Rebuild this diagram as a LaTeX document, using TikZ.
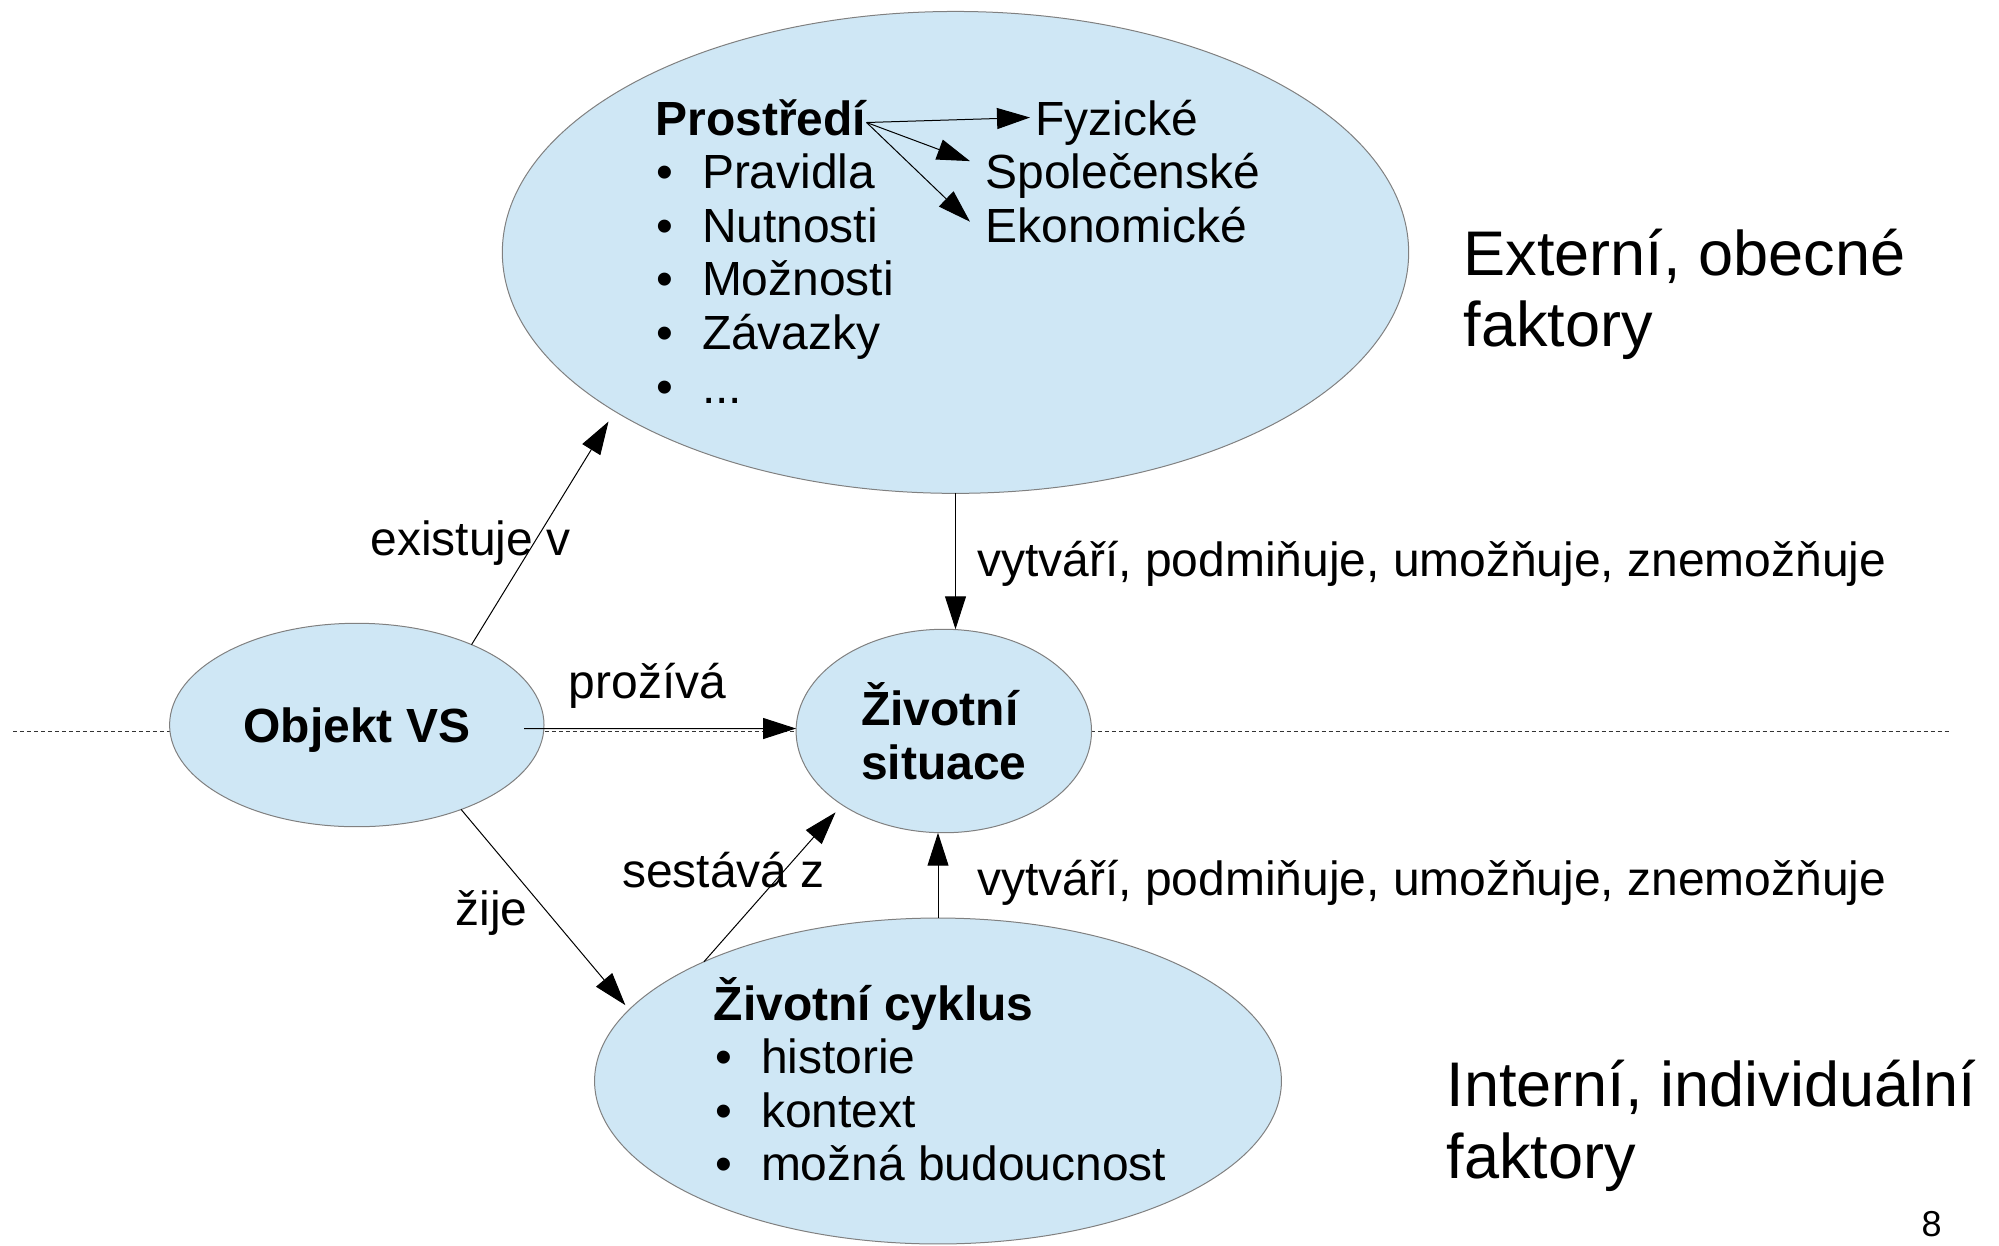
\documentclass[tikz,border=0pt]{standalone}
\usepackage{fontspec}
\setmainfont{Liberation Sans}
\usetikzlibrary{shapes.geometric,arrows.meta}
\definecolor{blobfill}{RGB}{207,231,245}
\definecolor{blobedge}{RGB}{128,128,128}
\tikzset{
  blob/.style={ellipse,draw=blobedge,fill=blobfill,line width=0.02cm,inner sep=0pt,outer sep=0pt},
  txt/.style={inner sep=0pt,anchor=base west,font=\fontsize{27.3}{30.5}\selectfont},
  head/.style={txt,font=\fontsize{27.3}{30.5}\selectfont\bfseries},
  big/.style={txt,font=\fontsize{35.9}{40.8}\selectfont},
}
\newcommand{\itm}[1]{\makebox[0.95em][l]{\textbullet}#1}

\begin{document}
\begin{tikzpicture}[x=0.02cm,y=-0.02cm,->,>={Triangle[length=0.66cm,width=0.42cm]},line width=0.02cm]
  \useasboundingbox (0,0) rectangle (1999,1245);
  % separator
  \draw[-,dash pattern=on 0.08cm off 0.06cm,black!80] (13,731.5) -- (1951,731.5);

  \node[blob,minimum width=18.13cm,minimum height=9.64cm] (prostredi) at (955.5,252.4) {};
  \node[blob,minimum width=7.49cm,minimum height=4.07cm,text depth=0pt,font=\fontsize{27.3}{30.5}\selectfont\bfseries] (objekt) at (356.8,725) {Objekt VS};
  \node[blob,minimum width=5.91cm,minimum height=4.07cm,align=left,font=\fontsize{27.3}{30.5}\selectfont\bfseries] (zs) at (943.8,731) {Životní\\situace};
  \node[blob,minimum width=13.74cm,minimum height=6.52cm] (zyklus) at (938,1081) {};

  % environment
  \node[head] (pt) at (655,135) {Prostředí};
  \node[txt] (p1) at (656,188.6) {\itm{Pravidla}};
  \node[txt] (p2) at (656,242.2) {\itm{Nutnosti}};
  \node[txt] (p3) at (656,295.8) {\itm{Možnosti}};
  \node[txt] (p4) at (656,349.4) {\itm{Závazky}};
  \node[txt] (p5) at (656,403) {\itm{...}};
  \node[txt] (fyz) at (1035,135) {Fyzické};
  \node[txt] (spol) at (985,188.6) {Společenské};
  \node[txt] (eko) at (985,242.2) {Ekonomické};

  % life cycle
  \node[head] (zt) at (713.3,1020) {Životní cyklus};
  \node[txt] (z1) at (715,1073.6) {\itm{historie}};
  \node[txt] (z2) at (715,1127.2) {\itm{kontext}};
  \node[txt] (z3) at (715,1180.8) {\itm{možná budoucnost}};

  \node[big] (ext1) at (1463,275) {Externí, obecné};
  \node[big] (ext2) at (1463,346.7) {faktory};
  \node[big] (int1) at (1446,1106.7) {Interní, individuální};
  \node[big] (int2) at (1446,1178) {faktory};

  \node[txt] (lexist) at (370,555) {existuje v};
  \node[txt] (lprozi) at (568.3,698.3) {prožívá};
  \node[txt] (lzije) at (455,925) {žije};
  \node[txt] (lsest) at (621.7,887.3) {sestává z};
  \node[txt] (lvyt1) at (976.7,576.7) {vytváří, podmiňuje, umožňuje, znemožňuje};
  \node[txt] (lvyt2) at (976.7,895) {vytváří, podmiňuje, umožňuje, znemožňuje};
  \node[txt,font=\fontsize{20.5}{24}\selectfont] (pnum) at (1921,1236) {8};

  \draw[shorten >=0.24cm] (objekt.35) -- (prostredi.205);
  \draw ([xshift=-0.4cm,yshift=-0.07cm]objekt.east) -- ([yshift=0.05cm]zs.west);
  \draw[shorten >=0.12cm] (objekt.-39) -- (zyklus.167);
  \draw[shorten >=0.2cm] (zyklus.153) -- (zs.216);
  \draw (prostredi.south) -- (prostredi.south |- zs.north);
  \draw (zyklus.north) -- (zyklus.north |- zs.south);
  \draw ([yshift=0.25cm]pt.base east) -- ([shift={(-0.1cm,0.35cm)}]fyz.base west);
  \draw ([yshift=0.25cm]pt.base east) -- ([shift={(-0.3cm,0.55cm)}]spol.base west);
  \draw ([yshift=0.25cm]pt.base east) -- ([shift={(-0.3cm,0.41cm)}]eko.base west);
\end{tikzpicture}
\end{document}
